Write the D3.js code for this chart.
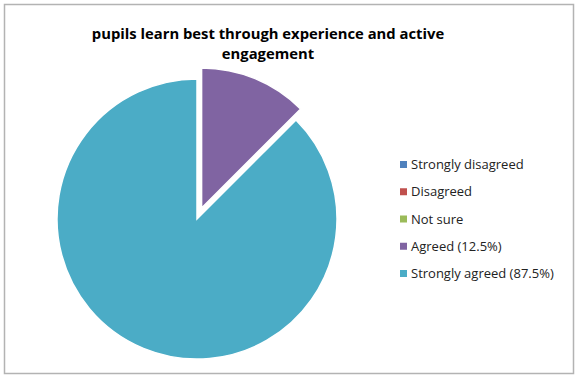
<!DOCTYPE html>
<html>
<head>
<meta charset="utf-8">
<script src="https://cdn.jsdelivr.net/npm/d3@7"></script>
<style>
  body { margin: 0; background: #fff; }
  text { font-family: "Open Sans", "Liberation Sans", sans-serif; }
</style>
</head>
<body>
<div id="chart"></div>
<script>
// Chart data
const categories = ["Strongly disagreed", "Disagreed", "Not sure", "Agreed (12.5%)", "Strongly agreed (87.5%)"];
const values = [0, 0, 0, 12.5, 87.5];
const colors = ["#4F81BD", "#C0504D", "#9BBB59", "#8064A2", "#4BACC6"];
const titleLines = ["pupils learn best through experience and active", "engagement"];
const explodedIndex = 3; // the Agreed slice is pulled out

const width = 579, height = 379;
const radius = 140;
const center = [197, 219];
const explode = 12;

const svg = d3.select("#chart")
  .append("svg")
  .attr("width", width)
  .attr("height", height);

// Outer frame
svg.append("rect")
  .attr("x", 4.5)
  .attr("y", 4.5)
  .attr("width", 569)
  .attr("height", 369)
  .attr("fill", "#fff")
  .attr("stroke", "#b3b3b3")
  .attr("stroke-width", 1.5);

// Title
svg.append("text")
  .attr("x", 268)
  .attr("y", 39)
  .attr("text-anchor", "middle")
  .attr("font-weight", "bold")
  .attr("font-size", 14.8)
  .selectAll("tspan")
  .data(titleLines)
  .join("tspan")
  .attr("x", 268)
  .attr("dy", (d, i) => i === 0 ? 0 : 20)
  .text(d => d);

// Pie
const pie = d3.pie().sort(null).value(d => d)(values);
const arc = d3.arc().innerRadius(0).outerRadius(radius);

const g = svg.append("g").attr("transform", `translate(${center[0]},${center[1]})`);

g.selectAll("path")
  .data(pie.filter(d => d.value > 0))
  .join("path")
  .attr("d", arc)
  .attr("fill", d => colors[d.index])
  .attr("stroke", "#fff")
  .attr("stroke-width", 1.5)
  .attr("transform", d => {
    if (d.index !== explodedIndex) return null;
    const mid = (d.startAngle + d.endAngle) / 2;
    return `translate(${explode * Math.sin(mid)},${-explode * Math.cos(mid)})`;
  });

// Legend
const legendY = d3.scalePoint().domain(categories).range([164.5, 273.5]);

const legend = svg.append("g").selectAll("g")
  .data(categories)
  .join("g")
  .attr("transform", d => `translate(400,${legendY(d)})`);

legend.append("rect")
  .attr("x", 0)
  .attr("y", -3.5)
  .attr("width", 7)
  .attr("height", 7)
  .attr("fill", (d, i) => colors[i]);

legend.append("text")
  .attr("x", 11)
  .attr("y", 0)
  .attr("dy", "0.35em")
  .attr("font-size", 13)
  .attr("fill", "#222")
  .text(d => d);
</script>
</body>
</html>
